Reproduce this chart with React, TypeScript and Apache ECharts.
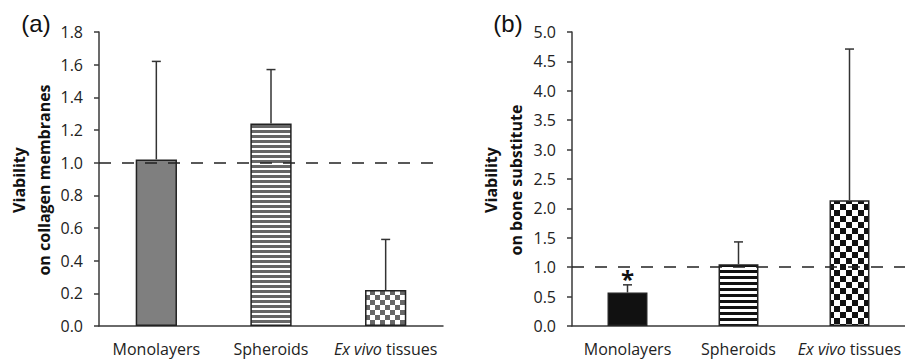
import React, { useEffect, useRef } from "react";
import * as echarts from "echarts";

const categories = ["Monolayers", "Spheroids", "Ex vivo tissues"];
const collagenMeans = [1.02, 1.24, 0.22];
const collagenErrors = [0.6, 0.33, 0.31];
const boneMeans = [0.57, 1.05, 2.14];
const boneErrors = [0.13, 0.38, 2.57];
const boneMarks = ["*", "", ""];
const collagenTicks = { min: 0, max: 1.8, interval: 0.2 };
const boneTicks = { min: 0, max: 5.0, interval: 0.5 };
const referenceLevel = 1.0;

const FONT = "'Open Sans', 'Noto Sans', sans-serif";

function makeCanvas(w: number, h: number, draw: (c: CanvasRenderingContext2D) => void) {
  const cv = document.createElement("canvas");
  cv.width = w;
  cv.height = h;
  const ctx = cv.getContext("2d")!;
  ctx.fillStyle = "#ffffff";
  ctx.fillRect(0, 0, w, h);
  draw(ctx);
  return cv;
}

function stripes(color: string, period: number, dark: number) {
  const cv = makeCanvas(8, period, (c) => {
    c.fillStyle = color;
    c.fillRect(0, 0, 8, dark);
  });
  return { image: cv, repeat: "repeat", imageWidth: 8, imageHeight: period };
}

function checker(color: string, cell: number) {
  const cv = makeCanvas(cell * 2, cell * 2, (c) => {
    c.fillStyle = color;
    c.fillRect(0, 0, cell, cell);
    c.fillRect(cell, cell, cell, cell);
  });
  return { image: cv, repeat: "repeat", imageWidth: cell * 2, imageHeight: cell * 2 };
}

export default function App() {
  const ref = useRef<HTMLDivElement>(null);
  useEffect(() => {
    if (!ref.current) return;
    const chart = echarts.init(ref.current, null, { renderer: "svg" });

    const fillsA: any[] = ["#7f7f7f", stripes("#666666", 5, 3), checker("#666666", 5)];
    const fillsB: any[] = ["#111111", stripes("#111111", 6, 3), checker("#111111", 6)];

    const axisLine = { show: true, lineStyle: { color: "#3a3a3a", width: 1.5 } };
    const xAxisBase = (gridIndex: number) => ({
      type: "category",
      gridIndex,
      data: categories,
      axisLine,
      axisTick: { show: false },
      axisLabel: {
        interval: 0,
        margin: 15,
        fontFamily: FONT,
        fontSize: 16,
        color: "#222",
        formatter: (v: string) =>
          v.startsWith("Ex vivo") ? "{i|Ex vivo}" + v.slice(7) : v,
        rich: { i: { fontStyle: "italic", fontFamily: FONT, fontSize: 16, color: "#222" } },
      },
    });
    const yAxisBase = (gridIndex: number, t: any) => ({
      type: "value",
      gridIndex,
      min: t.min,
      max: t.max,
      interval: t.interval,
      axisLine,
      axisTick: { show: true, length: 5, lineStyle: { color: "#3a3a3a", width: 1.5 } },
      splitLine: { show: false },
      axisLabel: {
        margin: 16,
        fontFamily: FONT,
        fontSize: 16,
        color: "#222",
        formatter: (v: number) => v.toFixed(1),
      },
    });

    const barSeries = (idx: number, means: number[], fills: any[]) => ({
      type: "bar",
      xAxisIndex: idx,
      yAxisIndex: idx,
      barWidth: "36%",
      data: means.map((v, i) => ({
        value: v,
        itemStyle: { color: fills[i], borderColor: "#222", borderWidth: 1.5 },
      })),
      markLine: {
        silent: true,
        symbol: "none",
        label: { show: false },
        lineStyle: { color: "#222", width: 1.5, type: [12, 11] },
        data: [{ yAxis: referenceLevel }],
      },
      z: 2,
    });

    const errSeries = (idx: number, means: number[], errs: number[], marks?: string[]) => ({
      type: "custom",
      xAxisIndex: idx,
      yAxisIndex: idx,
      data: means.map((m, i) => [i, m, errs[i]]),
      z: 3,
      renderItem: (params: any, api: any) => {
        const i = api.value(0);
        const m = api.value(1);
        const e = api.value(2);
        const p0 = api.coord([i, m]);
        const p1 = api.coord([i, m + e]);
        const children: any[] = [
          {
            type: "line",
            shape: { x1: p0[0], y1: p0[1], x2: p1[0], y2: p1[1] },
            style: { stroke: "#333", lineWidth: 1.5 },
          },
          {
            type: "line",
            shape: { x1: p1[0] - 4.5, y1: p1[1], x2: p1[0] + 4.5, y2: p1[1] },
            style: { stroke: "#333", lineWidth: 1.5 },
          },
        ];
        const mk = marks ? marks[params.dataIndex] : "";
        if (mk) {
          children.push({
            type: "text",
            x: p1[0],
            y: p1[1] - 6,
            style: {
              text: mk,
              fontFamily: FONT,
              fontWeight: "bold",
              fontSize: 24,
              fill: "#111",
              align: "center",
              verticalAlign: "middle",
            },
          });
        }
        return { type: "group", children };
      },
    });

    const titleText = (x: number, y: number, text: string, size: number, weight: string, rot = 0, family = FONT) => ({
      type: "text",
      x,
      y,
      rotation: rot,
      style: {
        text,
        fontFamily: family,
        fontSize: size,
        fontWeight: weight,
        fill: "#111",
        align: "center",
        verticalAlign: "middle",
      },
    });

    chart.setOption({
      animation: false,
      backgroundColor: "#ffffff",
      grid: [
        { left: 99, right: 462, top: 32, bottom: 35, containLabel: false },
        { left: 572, right: -10, top: 32, bottom: 35, containLabel: false },
      ],
      xAxis: [xAxisBase(0), xAxisBase(1)],
      yAxis: [yAxisBase(0, collagenTicks), yAxisBase(1, boneTicks)],
      series: [
        barSeries(0, collagenMeans, fillsA),
        errSeries(0, collagenMeans, collagenErrors),
        barSeries(1, boneMeans, fillsB),
        errSeries(1, boneMeans, boneErrors, boneMarks),
      ],
      graphic: [
        titleText(36, 23, "(a)", 24, "normal", 0, "'Liberation Sans', Arial, sans-serif"),
        titleText(508, 23, "(b)", 24, "normal", 0, "'Liberation Sans', Arial, sans-serif"),
        titleText(19, 180, "Viability", 16, "bold", Math.PI / 2),
        titleText(44, 180, "on collagen membranes", 16, "bold", Math.PI / 2),
        titleText(491, 180, "Viability", 16, "bold", Math.PI / 2),
        titleText(516, 180, "on bone substitute", 16, "bold", Math.PI / 2),
      ],
    });
    return () => chart.dispose();
  }, []);
  return (
    <div
      ref={ref}
      style={{ position: "fixed", left: 0, top: 0, width: 905, height: 361, overflow: "hidden" }}
    />
  );
}
